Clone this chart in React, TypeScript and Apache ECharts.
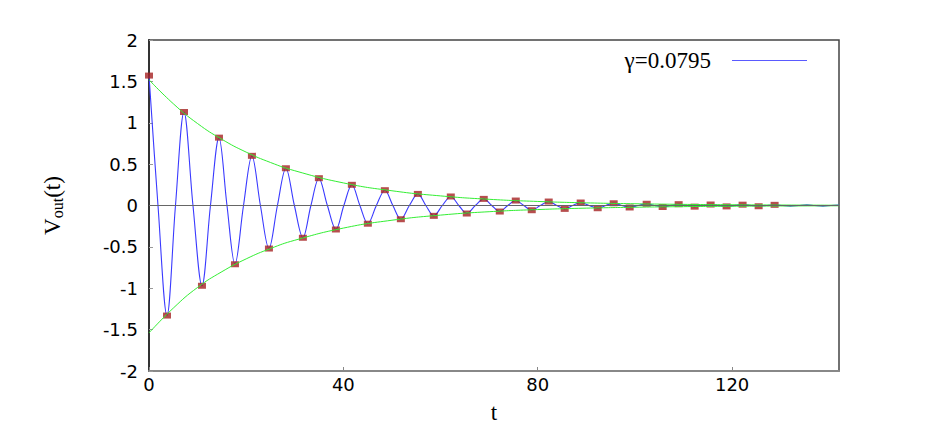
import React, { useEffect, useRef } from "react";
import * as echarts from "echarts";

// Peak / trough times and values (red markers)
const peakT = [0, 3.7, 7.2, 10.9, 14.4, 17.69, 21.18, 24.68, 28.17, 31.67, 34.96, 38.46, 41.75, 45.04, 48.54, 51.83, 55.33, 58.61, 62.11, 65.4, 68.89, 72.19, 75.48, 78.77, 82.26, 85.55, 88.84, 92.34, 95.63, 98.92, 102.42, 105.71, 109.0, 112.29, 115.58, 118.87, 122.16, 125.46, 128.75];
const peakV = [1.57, -1.33, 1.13, -0.97, 0.82, -0.71, 0.6, -0.52, 0.45, -0.39, 0.33, -0.29, 0.25, -0.22, 0.185, -0.166, 0.14, -0.125, 0.109, -0.097, 0.08, -0.073, 0.06, -0.057, 0.048, -0.041, 0.036, -0.033, 0.027, -0.024, 0.021, -0.018, 0.016, -0.014, 0.012, -0.011, 0.01, -0.009, 0.008];

// Zero crossings of the oscillation
const crossT = [1.85, 5.45, 9.05, 12.65, 16.05, 19.45, 22.93, 26.43, 29.92, 33.32, 36.71, 40.1, 43.4, 46.79, 50.19, 53.58, 56.97, 60.36, 63.76, 67.15, 70.54, 73.84, 77.13, 80.52, 83.91, 87.2, 90.59, 93.99, 97.28, 100.67, 104.07, 107.36, 110.65, 113.94, 117.23, 120.52, 123.81, 127.1, 130.4, 133.7, 137.0, 140.3];

// Small oscillation tail after the last marker
const tailT = [132.0, 135.4, 138.7, 142];
const tailV = [-0.008, 0.008, -0.007, 0.005];

// Envelope curves (green)
const envT = [0, 5, 10, 15, 20, 25, 30, 40, 50, 60, 70, 80, 90, 100, 110, 120, 130, 142];
const envUpper = [1.52, 1.23, 0.99, 0.8, 0.645, 0.52, 0.42, 0.273, 0.178, 0.116, 0.075, 0.049, 0.032, 0.021, 0.0136, 0.0089, 0.0058, 0.0034];
const envLower = [-1.54, -1.24, -0.99, -0.8, -0.645, -0.52, -0.42, -0.273, -0.178, -0.116, -0.075, -0.049, -0.032, -0.021, -0.0136, -0.0089, -0.0058, -0.0034];

const seriesName = "γ=0.0795";

export default function App() {
  const ref = useRef<HTMLDivElement>(null);
  useEffect(() => {
    if (!ref.current) return;
    const chart = echarts.init(ref.current, null, { renderer: "svg" });

    const bluePts: [number, number][] = [];
    peakT.forEach((t, i) => bluePts.push([t, peakV[i]]));
    crossT.forEach((t) => bluePts.push([t, 0]));
    tailT.forEach((t, i) => bluePts.push([t, tailV[i]]));
    bluePts.sort((a, b) => a[0] - b[0]);

    const markers = peakT.map((t, i) => [t, peakV[i]]);
    const upper = envT.map((t, i) => [t, envUpper[i]]);
    const lower = envT.map((t, i) => [t, envLower[i]]);

    const tickFont = { fontFamily: "DejaVu Sans", fontSize: 18, color: "#000" };

    chart.setOption({
      animation: false,
      backgroundColor: "#fff",
      grid: {
        left: 149,
        right: 87,
        top: 40,
        bottom: 65,
        show: true,
        borderColor: "#444",
        borderWidth: 1.5,
        backgroundColor: "transparent",
      },
      legend: {
        data: [{ name: seriesName, icon: "rect" }],
        right: 114,
        top: 44,
        align: "right",
        itemWidth: 75,
        itemHeight: 1,
        itemGap: 0,
        itemStyle: { color: "#5a5aff", borderWidth: 0 },
        textStyle: {
          fontFamily: "Liberation Serif",
          fontSize: 23,
          color: "#000",
          padding: [0, 16, 0, 0],
        },
      },
      xAxis: {
        type: "value",
        min: 0,
        max: 142,
        interval: 40,
        name: "t",
        nameLocation: "middle",
        nameGap: 30,
        nameTextStyle: { fontFamily: "Liberation Serif", fontSize: 23, color: "#000" },
        axisLine: { show: true, onZero: false, lineStyle: { color: "#888", width: 2 } },
        axisTick: { show: true, inside: true, length: 4, lineStyle: { color: "#888" } },
        axisLabel: { ...tickFont, margin: 4, showMaxLabel: false },
        splitLine: { show: false },
      },
      yAxis: {
        type: "value",
        min: -2,
        max: 2,
        interval: 0.5,
        name: "{v|V}{s|out}{v|(t)}",
        nameLocation: "middle",
        nameRotate: 90,
        nameGap: 84,
        nameTextStyle: {
          rich: {
            v: { fontFamily: "Liberation Serif", fontSize: 23, color: "#000", verticalAlign: "top", lineHeight: 24 },
            s: { fontFamily: "Liberation Serif", fontSize: 16, color: "#000", verticalAlign: "bottom", lineHeight: 16, padding: [12, 0, 0, 0] },
          },
        },
        axisLine: { show: true, onZero: false, lineStyle: { color: "#333", width: 2 } },
        axisTick: { show: true, inside: true, length: 4, lineStyle: { color: "#999" } },
        axisLabel: { ...tickFont, margin: 11 },
        splitLine: { show: false },
      },
      series: [
        {
          name: seriesName,
          type: "line",
          data: bluePts,
          smooth: 0.35,
          symbol: "none",
          lineStyle: { color: "#3a3aff", width: 1.1 },
          itemStyle: { color: "#3a3aff" },
          z: 2,
          markLine: {
            silent: true,
            symbol: ["none", "none"],
            label: { show: false },
            lineStyle: { color: "#666", type: "solid", width: 1 },
            data: [{ yAxis: 0 }],
          },
        },
        {
          name: "markers",
          type: "scatter",
          data: markers,
          symbol: "rect",
          symbolSize: [8, 6],
          itemStyle: { color: "#a52222" },
          z: 3,
        },
        {
          name: "upper",
          type: "line",
          data: upper,
          smooth: true,
          symbol: "none",
          lineStyle: { color: "#33ee33", width: 1 },
          z: 4,
        },
        {
          name: "lower",
          type: "line",
          data: lower,
          smooth: true,
          symbol: "none",
          lineStyle: { color: "#33ee33", width: 1 },
          z: 4,
        },
      ],
    });
    return () => chart.dispose();
  }, []);
  return (
    <div
      ref={ref}
      style={{ position: "fixed", left: 0, top: 0, width: 926, height: 436 }}
    />
  );
}
